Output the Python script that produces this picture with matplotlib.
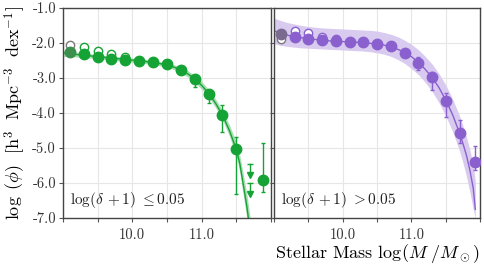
import matplotlib
matplotlib.use('Agg')
import matplotlib.pyplot as plt

plt.rcParams['font.family'] = 'serif'
plt.rcParams['font.serif'] = ['cmr10', 'DejaVu Serif']
plt.rcParams['mathtext.fontset'] = 'cm'
plt.rcParams['axes.unicode_minus'] = False
plt.rcParams['axes.formatter.use_mathtext'] = True

# mass bins (log M)
mass = [9.1, 9.3, 9.5, 9.7, 9.9, 10.1, 10.3, 10.5, 10.7, 10.9, 11.1, 11.3, 11.5]
mass_open = [9.1, 9.3, 9.5, 9.7, 9.9]

# low density (green)
lo_phi = [-2.25, -2.31, -2.39, -2.46, -2.49, -2.51, -2.54, -2.61, -2.76, -3.02, -3.46, -4.05, -5.04]
lo_err_up = [0.03, 0.03, 0.03, 0.03, 0.03, 0.03, 0.03, 0.03, 0.06, 0.11, 0.12, 0.28, 0.36]
lo_err_dn = [0.03, 0.03, 0.03, 0.03, 0.03, 0.03, 0.03, 0.03, 0.06, 0.25, 0.26, 0.48, 1.26]
lo_open = [-2.06, -2.12, -2.23, -2.32, -2.39]
lo_last_m, lo_last_phi, lo_last_up, lo_last_dn = 11.89, -5.90, 1.03, 0.35
lo_lim_m = [11.69, 11.69]
lo_lim_phi = [-5.46, -6.01]
lo_lim_len = 0.30

# high density (purple)
hi_phi = [-1.75, -1.82, -1.89, -1.91, -1.95, -1.96, -1.98, -2.03, -2.10, -2.28, -2.56, -2.98, -3.66]
hi_err_up = [0.03, 0.03, 0.03, 0.03, 0.03, 0.03, 0.03, 0.03, 0.05, 0.06, 0.17, 0.16, 0.24]
hi_err_dn = [0.03, 0.03, 0.03, 0.03, 0.03, 0.03, 0.03, 0.03, 0.05, 0.06, 0.21, 0.36, 0.45]
hi_open = [-1.90, -1.66, -1.72, -1.82, -1.89]
hi_extra_m = [11.71, 11.92]
hi_extra_phi = [-4.56, -5.41]
hi_extra_up = [0.36, 0.47]
hi_extra_dn = [0.31, 0.22]

# fitted curves
fit_m = [9.0, 9.1, 9.2, 9.3, 9.4, 9.5, 9.6, 9.7, 9.8, 9.9, 10.0, 10.1, 10.2, 10.3,
         10.4, 10.5, 10.6, 10.7, 10.8, 10.9, 11.0, 11.1, 11.2, 11.3, 11.4, 11.5]
lo_fit = [-2.29, -2.31, -2.33, -2.35, -2.37, -2.39, -2.41, -2.43, -2.45, -2.47, -2.49,
          -2.51, -2.53, -2.56, -2.59, -2.63, -2.69, -2.77, -2.88, -3.03, -3.21, -3.44,
          -3.72, -4.06, -4.50, -5.04]
lo_fit_m_tail = [11.55, 11.6, 11.65, 11.7]
lo_fit_tail = [-5.45, -6.05, -6.65, -7.4]
lo_band = [0.09, 0.08, 0.07, 0.07, 0.06, 0.06, 0.06, 0.06, 0.06, 0.06, 0.06, 0.06,
           0.06, 0.06, 0.06, 0.06, 0.07, 0.08, 0.09, 0.10, 0.11, 0.11, 0.12, 0.13,
           0.16, 0.20]
lo_band_tail = [0.24, 0.30, 0.35, 0.40]

hi_fit = [-1.65, -1.72, -1.78, -1.82, -1.85, -1.88, -1.90, -1.92, -1.94, -1.95, -1.96,
          -1.97, -1.98, -1.99, -2.01, -2.03, -2.06, -2.11, -2.18, -2.27, -2.39, -2.55,
          -2.75, -2.98, -3.27, -3.63]
hi_fit_m_tail = [11.6, 11.7, 11.75, 11.8, 11.85, 11.9, 11.93]
hi_fit_tail = [-4.05, -4.57, -4.87, -5.20, -5.62, -6.15, -6.75]
hi_band_up = [-1.29, -1.36, -1.42, -1.46, -1.50, -1.53, -1.55, -1.57, -1.58, -1.59,
              -1.60, -1.61, -1.62, -1.63, -1.64, -1.66, -1.70, -1.75, -1.82, -1.92,
              -2.04, -2.19, -2.38, -2.60, -2.87, -3.20]
hi_band_up_tail = [-3.60, -4.08, -4.37, -4.68, -5.05, -5.50, -5.95]
hi_band_lo = [-2.02, -2.07, -2.10, -2.12, -2.14, -2.15, -2.16, -2.17, -2.18, -2.19,
              -2.20, -2.21, -2.22, -2.23, -2.25, -2.28, -2.32, -2.38, -2.47, -2.58,
              -2.73, -2.90, -3.12, -3.38, -3.70, -4.08]
hi_band_lo_tail = [-4.53, -5.08, -5.42, -5.80, -6.25, -6.75, -7.0]

yticks = [-1, -2, -3, -4, -5, -6, -7]
ytick_labels = ['-1.0', '-2.0', '-3.0', '-4.0', '-5.0', '-6.0', '-7.0']
xticks = [9.0, 9.5, 10.0, 10.5, 11.0, 11.5, 12.0]
xtick_labels = ['', '', '10.0', '', '11.0', '', '']

green = '#15a335'
green_band = '#a8dcb3'
purple = '#8a60cf'
purple_band = '#d8cbef'
grey = '#7a7a7a'

fig = plt.figure(figsize=(4.84, 2.65), dpi=100)
ax1 = fig.add_axes([0.130, 0.177, 0.430, 0.793])
ax2 = fig.add_axes([0.566, 0.177, 0.426, 0.793])

for ax in (ax1, ax2):
    ax.set_xlim(9.0, 12.0)
    ax.set_ylim(-7.0, -1.0)
    ax.set_xticks(xticks)
    ax.set_xticklabels(xtick_labels)
    ax.set_yticks(yticks)
    ax.grid(True, color='#e6e6e6', linewidth=0.8)
    ax.set_axisbelow(True)
    for s in ax.spines.values():
        s.set_color('#444444')
        s.set_linewidth(1.0)
    ax.tick_params(direction='out', length=3, width=0.8, color='#555555',
                   labelsize=10.5, labelcolor='#333333', pad=2)
    ax.tick_params(axis='x', pad=4)

ax1.set_yticklabels(ytick_labels)
ax2.set_yticklabels([])

# left panel
m_all = fit_m + lo_fit_m_tail
f_all = lo_fit + lo_fit_tail
b_all = lo_band + lo_band_tail
ax1.fill_between(m_all, [f + b for f, b in zip(f_all, b_all)],
                 [f - b for f, b in zip(f_all, b_all)], color=green_band, lw=0, zorder=1)
ax1.plot(m_all, f_all, color=green, lw=1.0, zorder=2)
ax1.plot(mass_open[1:], lo_open[1:], 'o', ms=6, mfc='white', mec=green, mew=1.0, zorder=3)
ax1.plot(mass_open[:1], lo_open[:1], 'o', ms=6, mfc='white', mec=grey, mew=1.0, zorder=3)
ax1.errorbar(mass[1:], lo_phi[1:], yerr=[lo_err_dn[1:], lo_err_up[1:]], fmt='o', ms=7.5,
             color=green, ecolor=green, elinewidth=1.0, capsize=1.5, zorder=4)
ax1.plot(mass[:1], lo_phi[:1], 'o', ms=7.5, color='#3c8f4d', zorder=4)
ax1.errorbar([lo_last_m], [lo_last_phi], yerr=[[lo_last_dn], [lo_last_up]], fmt='o', ms=7.5,
             color=green, elinewidth=1.0, capsize=1.5, zorder=4)
for m, p in zip(lo_lim_m, lo_lim_phi):
    ax1.plot([m, m], [p, p - lo_lim_len], color=green, lw=1.0, zorder=4)
    ax1.plot([m], [p], marker='_', ms=5, mew=1.0, color=green, zorder=4)
    ax1.plot([m], [p - lo_lim_len], marker='v', ms=4, color=green, zorder=4)
ax1.text(0.035, 0.086, r'$\log(\delta\,+1)\ \leq$0.05', transform=ax1.transAxes,
         fontsize=11, va='center', ha='left', color='#222222')

# right panel
m_all = fit_m + hi_fit_m_tail
ax2.fill_between(m_all, hi_band_up + hi_band_up_tail, hi_band_lo + hi_band_lo_tail,
                 color=purple_band, lw=0, zorder=1)
ax2.plot(m_all, hi_fit + hi_fit_tail, color=purple, lw=1.0, zorder=2)
ax2.plot(mass_open[1:], hi_open[1:], 'o', ms=6, mfc='white', mec=purple, mew=1.0, zorder=3)
ax2.plot(mass_open[:1], hi_open[:1], 'o', ms=6, mfc='white', mec=grey, mew=1.0, zorder=3)
ax2.errorbar(mass[1:] + hi_extra_m, hi_phi[1:] + hi_extra_phi,
             yerr=[hi_err_dn[1:] + hi_extra_dn, hi_err_up[1:] + hi_extra_up], fmt='o', ms=7.5,
             color=purple, ecolor=purple, elinewidth=1.0, capsize=1.5, zorder=4)
ax2.plot(mass[:1], hi_phi[:1], 'o', ms=7.5, color='#7a6a8f', zorder=4)
ax2.text(0.033, 0.086, r'$\log(\delta\,+1)\ >$0.05', transform=ax2.transAxes,
         fontsize=11, va='center', ha='left', color='#222222')

ax1.set_ylabel(r'$\log\ (\phi)\ \ [\mathrm{h}^3\ \ \mathrm{Mpc}^{-3}\ \ \mathrm{dex}^{-1}]$',
               fontsize=13, labelpad=3)
ax2.set_xlabel(r'Stellar Mass $\log(M\ /M_\odot)$', fontsize=13, labelpad=0)

fig.savefig('out.png', dpi=100)
